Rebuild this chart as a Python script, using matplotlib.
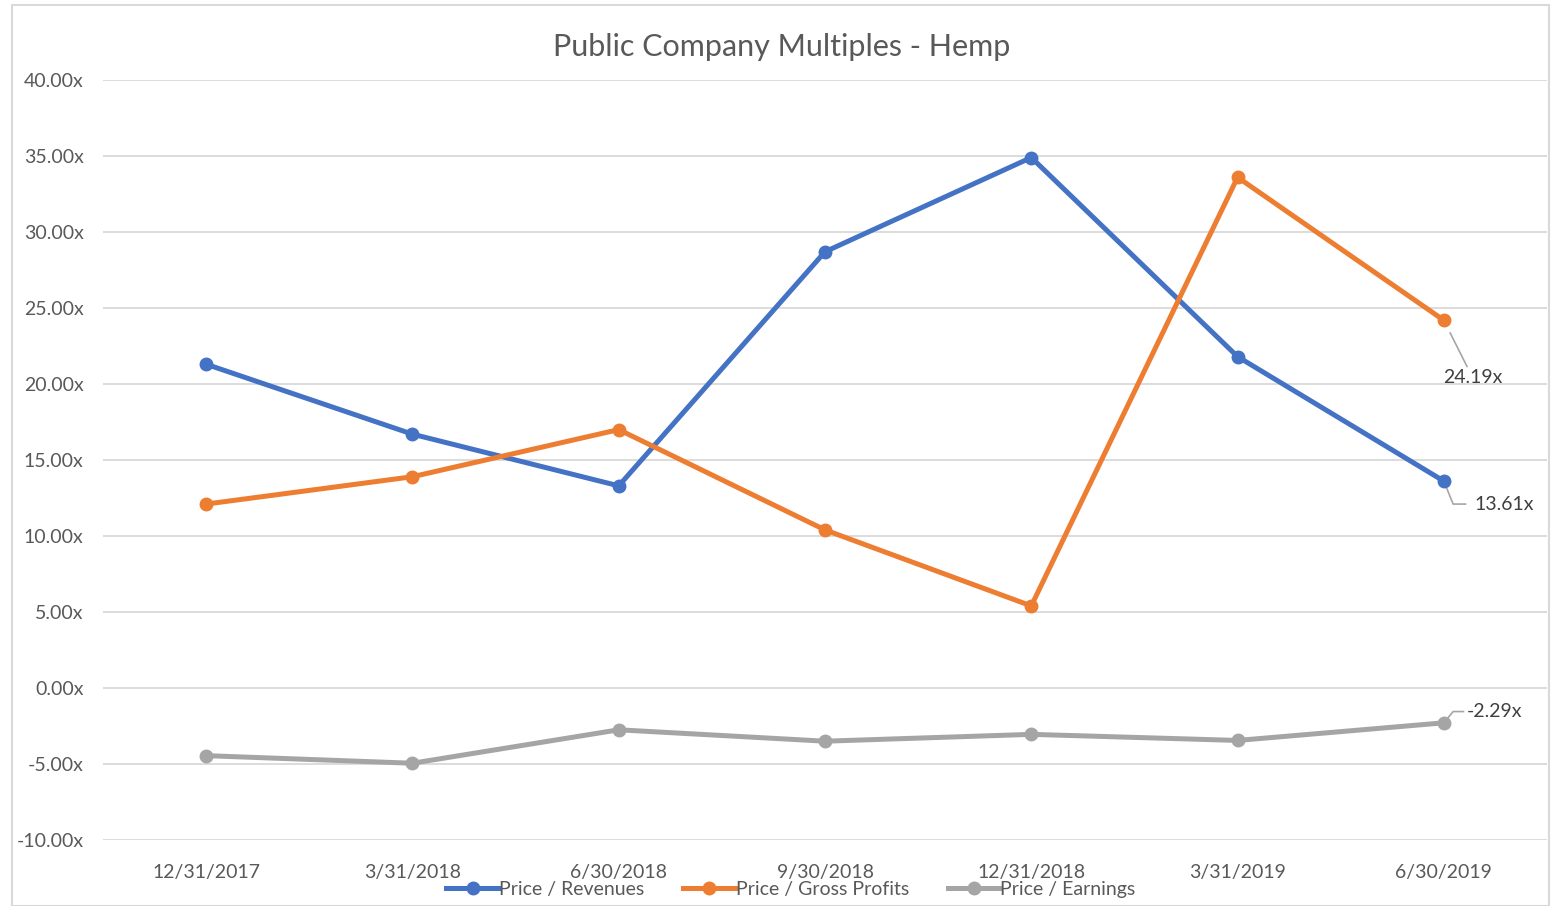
import matplotlib.pyplot as plt
from matplotlib.patches import Rectangle

dates = ['12/31/2017', '3/31/2018', '6/30/2018', '9/30/2018', '12/31/2018', '3/31/2019', '6/30/2019']
price_revenues = [21.3, 16.7, 13.3, 28.7, 34.9, 21.8, 13.61]
price_gross = [12.1, 13.9, 17.0, 10.4, 5.4, 33.6, 24.19]
price_earnings = [-4.45, -4.95, -2.75, -3.5, -3.05, -3.45, -2.29]
yticks = [-10, -5, 0, 5, 10, 15, 20, 25, 30, 35, 40]

W, H = 1551, 906
plt.rcParams['font.family'] = ['Lato', 'DejaVu Sans']
txt = '#595959'

fig = plt.figure(figsize=(W / 100, H / 100), dpi=100)
fig.patches.append(Rectangle((12 / W, 0), (1549 - 12) / W, 1 - 5 / H, transform=fig.transFigure,
                             fill=False, edgecolor='#D9D9D9', linewidth=1.5))

ax = fig.add_axes([103 / W, 1 - 840 / H, (1547 - 103) / W, (840 - 80) / H])
x = list(range(len(dates)))
series = [(price_revenues, '#4472C4', 'Price / Revenues'),
          (price_gross, '#ED7D31', 'Price / Gross Profits'),
          (price_earnings, '#A5A5A5', 'Price / Earnings')]
for vals, col, lab in series:
    ax.plot(x, vals, color=col, linewidth=3.6, marker='o', markersize=9, label=lab, zorder=3)

ax.set_xlim(-0.5, 6.5)
ax.set_ylim(-10, 40)
ax.set_yticks(yticks)
ax.set_yticklabels([f'{v:.2f}x' for v in yticks])
ax.set_xticks(x)
ax.set_xticklabels(dates)
ax.tick_params(axis='both', length=0, labelsize=14, labelcolor=txt)
ax.tick_params(axis='y', pad=14)
ax.tick_params(axis='x', pad=17)
ax.grid(axis='y', color='#D9D9D9', linewidth=1.3)
for s in ax.spines.values():
    s.set_visible(False)

fig.text(782 / W, 1 - 47 / H, 'Public Company Multiples - Hemp', fontsize=22, color=txt,
         ha='center', va='center')

# data labels on the last point, with leader lines
lc = '#A6A6A6'
ax.annotate(f'{price_gross[-1]:.2f}x', xy=(6, price_gross[-1]), xytext=(6.14, 20.4),
            fontsize=14, color='#404040', ha='center', va='center',
            arrowprops=dict(arrowstyle='-', color=lc, lw=1.2, shrinkA=0, shrinkB=10))
ax.plot([6, 6.045, 6.105], [price_revenues[-1], 12.1, 12.1], color=lc, lw=1.2, zorder=2)
ax.text(6.15, 12.1, f'{price_revenues[-1]:.2f}x', fontsize=14, color='#404040', va='center')
ax.plot([6, 6.045, 6.095], [price_earnings[-1], -1.55, -1.55], color=lc, lw=1.2, zorder=2)
ax.text(6.11, -1.55, f'{price_earnings[-1]:.2f}x', fontsize=14, color='#404040', va='center')

leg = ax.legend(loc='center', bbox_to_anchor=(791 / W, 1 - 889 / H), bbox_transform=fig.transFigure,
                ncol=3, frameon=False, fontsize=14, handlelength=2.7, handletextpad=0.0,
                columnspacing=2.0, labelcolor=txt, borderpad=0)

fig.savefig('out.png', dpi=100)
